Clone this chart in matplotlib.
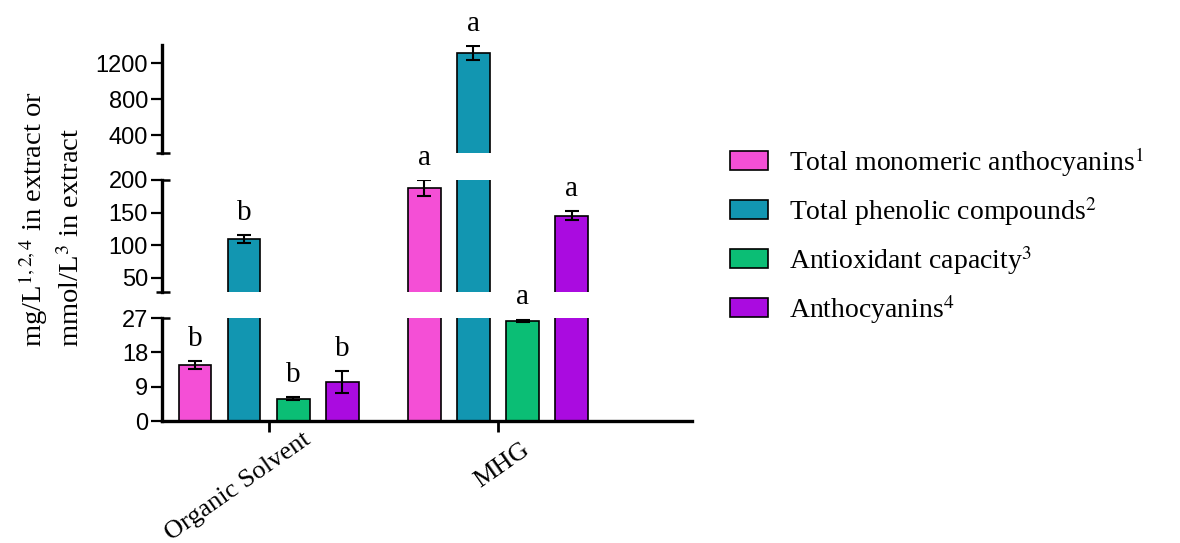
import matplotlib.pyplot as plt
import numpy as np
from matplotlib.transforms import ScaledTranslation

plt.rcParams['font.family'] = 'Liberation Serif'
plt.rcParams['mathtext.fontset'] = 'stix'

# data
groups = ['Organic Solvent', 'MHG']
series = ['Total monomeric anthocyanins$^{1}$', 'Total phenolic compounds$^{2}$',
          'Antioxidant capacity$^{3}$', 'Anthocyanins$^{4}$']
colors = ['#F44FD6', '#1296B1', '#0BBE75', '#AA0BE0']
monomeric = [14.7, 188]
phenolic = [109, 1311]
antioxidant = [5.8, 26.2]
anthocyanins = [10.2, 145]
monomeric_err = [1.0, 12]
phenolic_err = [6, 80]
antioxidant_err = [0.4, 0.35]
anthocyanins_err = [2.8, 7]
letters = [['b', 'a'], ['b', 'a'], ['b', 'a'], ['b', 'a']]

values = [monomeric, phenolic, antioxidant, anthocyanins]
errors = [monomeric_err, phenolic_err, antioxidant_err, anthocyanins_err]

# broken y axis: (low, high, ticks)
segments = [(0, 27, [0, 9, 18, 27]),
            (28, 200, [50, 100, 150, 200]),
            (200, 1400, [400, 800, 1200])]

W, H = 1180, 543
fig = plt.figure(figsize=(W / 100, H / 100), dpi=100)
x0, x1 = 162 / W, 692 / W
rects_px = [(421, 318), (292, 180), (153, 45)]
axes = []
for (ybot, ytop) in rects_px:
    ax = fig.add_axes([x0, 1 - ybot / H, x1 - x0, (ybot - ytop) / H])
    ax.patch.set_visible(False)
    axes.append(ax)

x = np.arange(len(groups))
step = 0.214
width = 0.14
offsets = (np.arange(4) - 1.5) * step

for ax, (lo, hi, ticks) in zip(axes, segments):
    for i in range(4):
        ax.bar(x + offsets[i], values[i], width, color=colors[i], edgecolor='black',
               linewidth=1.2, label=series[i])
        # error bars only in the segment holding the bar top
        for g in range(len(groups)):
            if lo <= values[i][g] <= hi:
                ax.errorbar(x[g] + offsets[i], values[i][g], yerr=errors[i][g], fmt='none',
                            ecolor='black', elinewidth=1.5, capsize=5, capthick=1.5)
    ax.set_ylim(lo, hi)
    ax.set_xlim(-0.467, 1.847)
    ax.set_yticks(ticks)
    ax.set_yticklabels([str(t) for t in ticks], family='Liberation Sans', fontsize=17)
    ax.tick_params(axis='y', length=8, width=1.6, pad=2)
    for s in ['top', 'right', 'bottom']:
        ax.spines[s].set_visible(False)
    ax.spines['left'].set_linewidth(2.4)
    ax.set_xticks([])

# letters above bars
for i in range(4):
    for g in range(len(groups)):
        top = values[i][g] + errors[i][g]
        for ax, (lo, hi, ticks) in zip(axes, segments):
            if lo <= top <= hi:
                ax.annotate(letters[i][g], (x[g] + offsets[i], top), xytext=(0, 11),
                            textcoords='offset points', ha='center', va='baseline',
                            fontsize=21, annotation_clip=False, zorder=10)
                break

# bottom axis
axb = axes[0]
axb.spines['bottom'].set_visible(True)
axb.spines['bottom'].set_linewidth(2.4)
axb.set_xticks(x)
axb.set_xticklabels(groups, rotation=35, ha='right', rotation_mode='anchor', fontsize=19)
axb.tick_params(axis='x', length=8, width=2, pad=4)
label_shift = [(33, 9), (23, -1)]
for lab, (dx, dy) in zip(axb.get_xticklabels(), label_shift):
    lab.set_transform(lab.get_transform() + ScaledTranslation(dx / 100, dy / 100, fig.dpi_scale_trans))

# break marks on the left spine
axw = (x1 - x0) * W
def stub(ax, y, left, right):
    ax.plot([-left / axw, right / axw], [y, y], transform=ax.transAxes, color='black',
            lw=1.8, clip_on=False, solid_capstyle='butt')

stub(axes[0], 1, 0, 8)
stub(axes[1], 1, 0, 8)
stub(axes[1], 0, 6, 8)
stub(axes[2], 0, 6, 8)

# y label
fig.text(33 / W, 1 - 347 / H, 'mg/L$^{1,2,4}$ in extract or', rotation=90,
         ha='center', va='bottom', fontsize=20.5)
fig.text(72 / W, 1 - 347 / H, 'mmol/L$^{3}$ in extract', rotation=90,
         ha='center', va='bottom', fontsize=20.5)

handles, labels = axes[0].get_legend_handles_labels()
fig.legend(handles, labels, loc='upper left', bbox_to_anchor=(730 / W, 1 - 145 / H),
           frameon=False, fontsize=20, handlelength=1.37, handleheight=0.68,
           labelspacing=0.58, handletextpad=0.75, borderpad=0, borderaxespad=0)

fig.savefig('out.png', dpi=100)
